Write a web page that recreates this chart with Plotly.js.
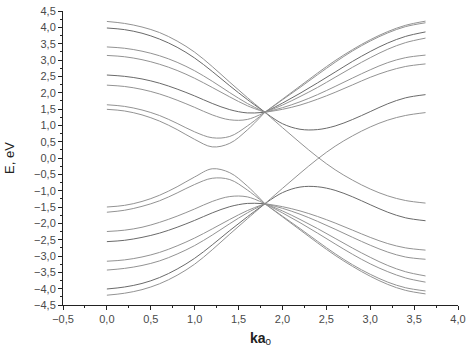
<!DOCTYPE html>
<html>
<head>
<meta charset="utf-8">
<script src="https://cdn.plot.ly/plotly-3.0.1.min.js"></script>
<style>html,body{margin:0;padding:0;background:#fff;}#chart{width:469px;height:351px;}</style>
</head>
<body>
<div id="chart"></div>
<script>
// wave-vector samples (ka0)
var kLeft  = [0, 0.2, 0.4, 0.6, 0.8, 1.0, 1.2, 1.4, 1.6, 1.8];
var kRight = [1.8, 2.0, 2.2, 2.4, 2.6, 2.8, 3.0, 3.2, 3.4, 3.63];

// upper (conduction-like) branches, left of crossing
var u1L = [4.18, 4.12, 4.01, 3.84, 3.58, 3.24, 2.80, 2.32, 1.85, 1.40];
var u2L = [3.98, 3.93, 3.82, 3.64, 3.39, 3.06, 2.65, 2.21, 1.79, 1.40];
var u3L = [3.40, 3.36, 3.27, 3.13, 2.93, 2.67, 2.35, 2.00, 1.67, 1.40];
var u4L = [3.14, 3.10, 3.01, 2.87, 2.68, 2.44, 2.16, 1.87, 1.60, 1.40];
var u5L = [2.54, 2.50, 2.42, 2.29, 2.11, 1.90, 1.67, 1.48, 1.38, 1.40];
var u6L = [2.23, 2.19, 2.10, 1.96, 1.77, 1.55, 1.32, 1.17, 1.18, 1.40];
var u7L = [1.63, 1.58, 1.47, 1.30, 1.06, 0.80, 0.62, 0.66, 0.98, 1.40];
var u8L = [1.49, 1.44, 1.32, 1.13, 0.87, 0.57, 0.34, 0.45, 0.86, 1.40];

// upper branches, right of crossing
var u1R = [1.40, 1.80, 2.20, 2.60, 2.98, 3.32, 3.62, 3.87, 4.06, 4.19];
var u2R = [1.40, 1.78, 2.16, 2.55, 2.93, 3.28, 3.58, 3.83, 4.02, 4.14];
var u3R = [1.40, 1.68, 1.98, 2.30, 2.63, 2.96, 3.26, 3.52, 3.72, 3.86];
var u4R = [1.40, 1.62, 1.88, 2.16, 2.47, 2.78, 3.07, 3.33, 3.53, 3.67];
var u5R = [1.40, 1.54, 1.72, 1.94, 2.19, 2.45, 2.70, 2.92, 3.07, 3.15];
var u6R = [1.40, 1.49, 1.62, 1.80, 2.01, 2.24, 2.47, 2.66, 2.80, 2.88];
var u7R = [1.40, 1.05, 0.88, 0.87, 0.98, 1.18, 1.42, 1.66, 1.84, 1.94];
var u8R = [1.40, 0.93, 0.47, 0.03, -0.36, -0.68, -0.95, -1.16, -1.30, -1.38];

// lower (valence-like) branches, left of crossing
var l1L = [-4.20, -4.14, -4.03, -3.85, -3.59, -3.25, -2.81, -2.33, -1.86, -1.40];
var l2L = [-4.01, -3.95, -3.84, -3.66, -3.40, -3.07, -2.66, -2.22, -1.80, -1.40];
var l3L = [-3.43, -3.38, -3.29, -3.15, -2.94, -2.68, -2.36, -2.01, -1.68, -1.40];
var l4L = [-3.16, -3.12, -3.03, -2.89, -2.69, -2.45, -2.17, -1.88, -1.61, -1.40];
var l5L = [-2.56, -2.52, -2.43, -2.30, -2.12, -1.91, -1.68, -1.49, -1.39, -1.40];
var l6L = [-2.25, -2.21, -2.12, -1.97, -1.78, -1.56, -1.33, -1.18, -1.19, -1.40];
var l7L = [-1.66, -1.60, -1.48, -1.31, -1.07, -0.81, -0.62, -0.66, -0.98, -1.40];
var l8L = [-1.50, -1.45, -1.33, -1.14, -0.88, -0.58, -0.33, -0.45, -0.86, -1.40];

// lower branches, right of crossing
var l1R = [-1.40, -1.80, -2.20, -2.60, -2.98, -3.32, -3.62, -3.87, -4.05, -4.16];
var l2R = [-1.40, -1.78, -2.16, -2.55, -2.93, -3.27, -3.56, -3.80, -3.97, -4.07];
var l3R = [-1.40, -1.68, -1.98, -2.30, -2.63, -2.95, -3.24, -3.48, -3.67, -3.80];
var l4R = [-1.40, -1.62, -1.88, -2.16, -2.46, -2.76, -3.04, -3.29, -3.48, -3.61];
var l5R = [-1.40, -1.54, -1.72, -1.94, -2.18, -2.43, -2.67, -2.88, -3.03, -3.10];
var l6R = [-1.40, -1.49, -1.62, -1.79, -1.99, -2.21, -2.43, -2.62, -2.75, -2.82];
var l7R = [-1.40, -1.06, -0.89, -0.88, -0.99, -1.19, -1.43, -1.66, -1.83, -1.92];
var l8R = [-1.40, -0.93, -0.47, -0.03, 0.36, 0.68, 0.95, 1.16, 1.30, 1.39];

var leftSets  = [u1L, u2L, u3L, u4L, u5L, u6L, u7L, u8L, l1L, l2L, l3L, l4L, l5L, l6L, l7L, l8L];
var rightSets = [u1R, u2R, u3R, u4R, u5R, u6R, u7R, u8R, l1R, l2R, l3R, l4R, l5R, l6R, l7R, l8R];
// slightly darker strokes for the bands that look darker in the original
var darkLeft  = [false, true, false, false, true, false, false, false, false, true, false, false, true, false, false, false];
var darkRight = [false, false, true, false, false, false, true, false, false, false, false, false, false, false, true, false];

var traces = [];
function addTrace(xs, ys, dark) {
  traces.push({
    x: xs, y: ys, type: 'scatter', mode: 'lines',
    line: {color: dark ? '#6a6a6a' : '#939393', width: 1, shape: 'spline', smoothing: 1},
    hoverinfo: 'skip', showlegend: false
  });
}
leftSets.forEach(function (ys, i) { addTrace(kLeft, ys, darkLeft[i]); });
rightSets.forEach(function (ys, i) { addTrace(kRight, ys, darkRight[i]); });

var fam = 'Liberation Sans, Arial, sans-serif';
var tickFont = {family: fam, size: 11, color: '#4a4a4a'};
var layout = {
  width: 469, height: 351,
  margin: {l: 63, r: 11, t: 11, b: 46, pad: 0},
  paper_bgcolor: '#fff', plot_bgcolor: '#fff',
  separators: ', ',
  showlegend: false,
  xaxis: {
    range: [-0.5, 4.0], dtick: 0.5, tick0: 0, tickformat: '.1f',
    showgrid: false, zeroline: false, showline: true, linecolor: '#222', linewidth: 1,
    ticks: 'outside', ticklen: 4, tickcolor: '#222', tickfont: tickFont,
    minor: {dtick: 0.25, ticks: 'outside', ticklen: 2, tickcolor: '#222', showgrid: false},
    title: {text: '<b>ka</b><sub>0</sub>', font: {family: fam, size: 14, color: '#222'}, standoff: 8}
  },
  yaxis: {
    range: [-4.5, 4.5], dtick: 0.5, tick0: 0, tickformat: '.1f',
    showgrid: false, zeroline: false, showline: true, linecolor: '#222', linewidth: 1,
    ticks: 'outside', ticklen: 4, tickcolor: '#222', tickfont: tickFont,
    minor: {dtick: 0.25, ticks: 'outside', ticklen: 2, tickcolor: '#222', showgrid: false},
    title: {text: 'E, eV', font: {family: fam, size: 13, color: '#222'}, standoff: 16}
  }
};

Plotly.newPlot('chart', traces, layout, {staticPlot: true, displayModeBar: false});
</script>
</body>
</html>
